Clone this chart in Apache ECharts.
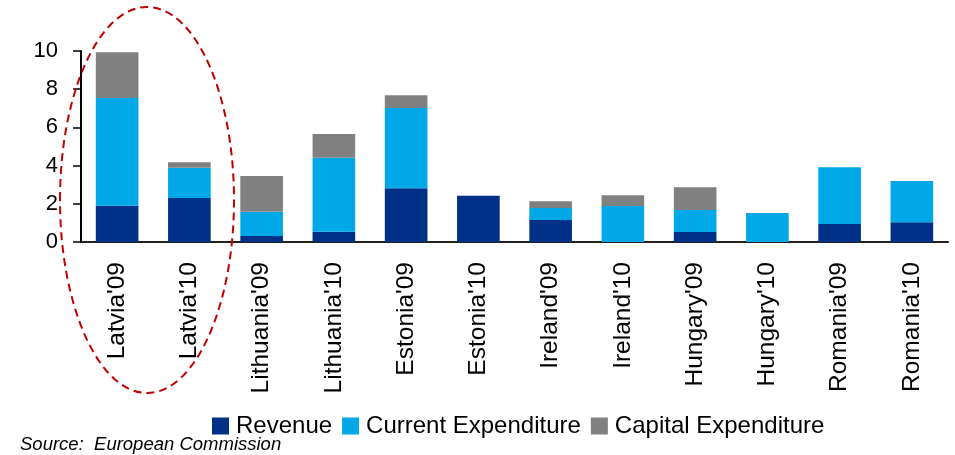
<!DOCTYPE html>
<html>
<head>
<meta charset="utf-8">
<script src="https://cdn.jsdelivr.net/npm/echarts@6/dist/echarts.min.js"></script>
<style>
  html, body { margin: 0; padding: 0; background: #fff; }
  #chart { width: 955px; height: 455px; }
</style>
</head>
<body>
<div id="chart"></div>
<script>
const categories = ["Latvia'09", "Latvia'10", "Lithuania'09", "Lithuania'10", "Estonia'09", "Estonia'10",
  "Ireland'09", "Ireland'10", "Hungary'09", "Hungary'10", "Romania'09", "Romania'10"];
const revenue = [1.9, 2.3, 0.31, 0.54, 2.82, 2.42, 1.15, 0, 0.52, 0, 0.94, 1.04];
const currentExp = [5.64, 1.59, 1.28, 3.87, 4.2, 0, 0.63, 1.88, 1.15, 1.52, 2.98, 2.15];
const capitalExp = [2.4, 0.29, 1.86, 1.24, 0.66, 0, 0.36, 0.57, 1.2, 0, 0, 0];
const yTicks = [0, 2, 4, 6, 8, 10];

const font = '"Liberation Sans", Arial, sans-serif';

const chart = echarts.init(document.getElementById('chart'));

const barSeries = (name, data, color) => ({
  name: name,
  type: 'bar',
  stack: 'total',
  data: data,
  barWidth: '59%',
  itemStyle: { color: color },
  emphasis: { disabled: true },
});

chart.setOption({
  animation: false,
  backgroundColor: '#fff',
  textStyle: { fontFamily: font },
  grid: { left: 81, right: 7, top: 51, bottom: 213, containLabel: false },
  legend: {
    bottom: 12,
    left: 207,
    itemWidth: 17,
    itemHeight: 17,
    itemGap: 10,
    icon: 'rect',
    textStyle: { fontFamily: font, fontSize: 24, color: '#000', padding: [0, 0, 0, 2] },
    data: ['Revenue', 'Current Expenditure', 'Capital Expenditure'],
  },
  xAxis: {
    type: 'category',
    data: categories,
    axisLine: { lineStyle: { color: '#222', width: 2 } },
    axisTick: { show: false },
    axisLabel: {
      rotate: 90,
      interval: 0,
      margin: 20,
      fontFamily: font,
      fontSize: 24.5,
      color: '#000',
    },
  },
  yAxis: {
    type: 'value',
    min: yTicks[0],
    max: yTicks[yTicks.length - 1],
    interval: 2,
    splitLine: { show: false },
    axisLine: { show: true, lineStyle: { color: '#000', width: 2 } },
    axisTick: { show: true, inside: false, length: 8, lineStyle: { color: '#000', width: 1.5 } },
    axisLabel: { margin: 23, fontFamily: font, fontSize: 22, color: '#000' },
  },
  graphic: [
    {
      type: 'ellipse',
      shape: { cx: 147, cy: 200, rx: 87, ry: 193 },
      style: { fill: 'none', stroke: '#C00000', lineWidth: 2, lineDash: [8, 5] },
      z: 100,
    },
    {
      type: 'text',
      left: 20,
      bottom: 1,
      style: {
        text: 'Source:  European Commission',
        fontFamily: font,
        fontSize: 18.5,
        fontStyle: 'italic',
        fill: '#000',
      },
    },
  ],
  series: [
    barSeries('Revenue', revenue, '#003087'),
    barSeries('Current Expenditure', currentExp, '#00A8E8'),
    barSeries('Capital Expenditure', capitalExp, '#808080'),
  ],
});
</script>
</body>
</html>
